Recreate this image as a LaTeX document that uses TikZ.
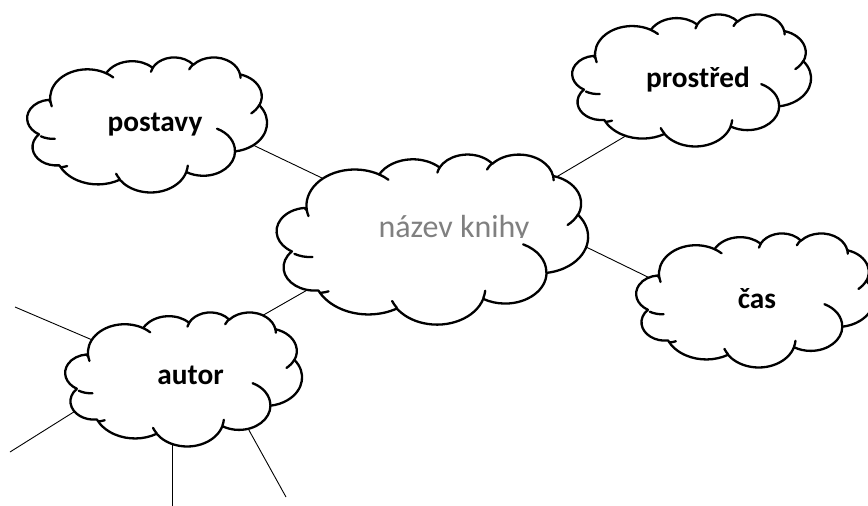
\documentclass[tikz,border=0pt]{standalone}
\usepackage{fontspec}
\setmainfont{Carlito}
\definecolor{titlegray}{RGB}{128,128,128}
\tikzset{
  cloudline/.style={line width=2.3pt, line join=round, line cap=round},
  link/.style={line width=0.9pt, line cap=butt},
  wordtext/.style={font=\fontsize{29.3}{35}\selectfont\bfseries, inner sep=0pt, anchor=base},
  titletext/.style={font=\fontsize{32}{38}\selectfont, text=titlegray, inner sep=0pt, anchor=base},
}
% one arc of the office cloud: x radius, y radius, visual start angle, sweep
\newcommand\oarc[4]{arc[x radius=#1, y radius=#2, start angle={vp(#1,#2,#3)}, end angle={vp(#1,#2,(#3)+(#4))}]}
% cloud in box: left, top, width, height (pixel units, y downwards)
\newcommand\ocloud[4]{%
  \pgfmathsetmacro\ocx{#3/43.2}\pgfmathsetmacro\ocy{#4/43.2}%
  \begin{scope}[shift={(#1,#2)}, x=\ocx pt, y=-\ocy pt]
    \filldraw[cloudline, fill=white] (3.900,14.370)
      \oarc{6.753}{9.190}{-190.4875}{123.7805}
      \oarc{5.333}{7.267}{-144.1024}{89.9452}
      \oarc{4.365}{5.945}{-145.8079}{99.7230}
      \oarc{4.857}{6.595}{-130.9861}{117.2417}
      \oarc{5.333}{7.273}{-78.7089}{109.0269}
      \oarc{6.775}{9.220}{-46.2673}{130.2690}
      \oarc{5.785}{7.867}{0.6250}{114.0333}
      \oarc{6.752}{9.215}{22.4516}{115.1726}
      \oarc{7.720}{10.543}{66.2426}{81.3771}
      \oarc{4.360}{5.918}{-274.9421}{146.7356}
      \oarc{4.345}{5.945}{-246.8285}{152.5189} -- cycle;
    \draw[cloudline]
      (4.693,26.177) \oarc{4.345}{5.945}{86.7420}{26.4295}
      (6.928,34.899) \oarc{4.360}{5.918}{73.6105}{11.4475}
      (16.478,39.090) \oarc{6.752}{9.215}{137.6242}{14.0811}
      (28.827,34.751) \oarc{6.752}{9.215}{6.4533}{15.9984}
      (34.129,22.954) \oarc{5.785}{7.867}{-70.2924}{70.9174}
      (41.798,15.354) \oarc{5.333}{7.273}{30.3180}{27.7515}
      (38.324,5.426) \oarc{4.857}{6.595}{-13.7443}{14.8589}
      (29.078,3.952) \oarc{4.857}{6.595}{-149.1815}{18.1954}
      (22.141,4.720) \oarc{4.365}{5.945}{-163.4943}{17.6864}
      (14.000,5.192) \oarc{6.753}{9.190}{-66.7070}{12.3194}
      (4.127,15.789) \oarc{6.753}{9.190}{157.6544}{11.8582};
  \end{scope}}
\begin{document}
\begin{tikzpicture}[x=1pt, y=-1pt,
  declare function={vp(\a,\b,\t)=\t+asin(sin(atan2(\a*sin(\t),\b*cos(\t))-\t));}]
\useasboundingbox (0,0) rectangle (868,506);
\fill[white] (0,0) rectangle (868,506);
\clip (0,0) rectangle (868,506);
% connector end points
\coordinate (postavy-se) at (250,143.6);
\coordinate (nazev-nw) at (327,180.4);
\coordinate (prostred-sw) at (629,134);
\coordinate (nazev-ne) at (553,179);
\coordinate (nazev-e) at (581,244.5);
\coordinate (cas-w) at (657,281.5);
\coordinate (autor-ne) at (260,317);
\coordinate (nazev-sw) at (309,289);
\coordinate (autor-w) at (97,342);
\coordinate (free-a) at (15,307);
\coordinate (autor-sw) at (79,408.7);
\coordinate (free-b) at (10,452);
\coordinate (autor-s) at (172,438);
\coordinate (free-c) at (172,510);
\coordinate (autor-se) at (245,423);
\coordinate (free-d) at (286,497);
% connectors
\draw[link] (postavy-se) -- (nazev-nw);
\draw[link] (prostred-sw) -- (nazev-ne);
\draw[link] (nazev-e) -- (cas-w);
\draw[link] (autor-ne) -- (nazev-sw);
\draw[link] (autor-w) -- (free-a);
\draw[link] (autor-sw) -- (free-b);
\draw[link] (autor-s) -- (free-c);
\draw[link] (autor-se) -- (free-d);
% clouds
\ocloud{29}{57}{238}{135}
\ocloud{574}{14}{237}{132}
\ocloud{279}{154}{309}{170}
\ocloud{638}{233}{236}{134}
\ocloud{67}{312}{235}{134}
% texts
\node[wordtext] (postavy) at (155,131.5) {postavy};
\node[wordtext] (prostred) at (698,87) {prostřed};
\node[wordtext] (cas) at (757,308) {čas};
\node[wordtext] (autor) at (190.5,384) {autor};
\begin{scope}
  \clip (300,150) rectangle (580,237.6);
  \node[titletext] (nazev) at (454,237) {název knihy};
\end{scope}
\end{tikzpicture}
\end{document}
